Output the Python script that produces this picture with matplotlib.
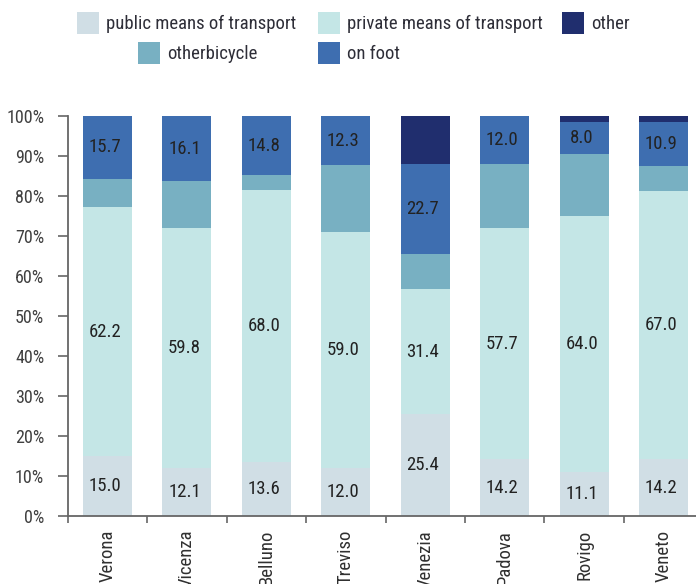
import numpy as np
import matplotlib
matplotlib.use("Agg")
import matplotlib.pyplot as plt
from matplotlib import font_manager as fm
from matplotlib.ticker import PercentFormatter
from matplotlib.patches import Patch

# pick a narrow font if one is installed, the chart uses a condensed face
narrow = ("condensed", "semi-condensed", "extra-condensed", "ultra-condensed")
pref = ["Liberation Sans Narrow", "Roboto Condensed", "Open Sans Condensed",
        "Noto Sans", "DejaVu Sans", "Roboto", "Open Sans"]
found = None
for name in pref:
    for f in fm.fontManager.ttflist:
        if f.name == name and (f.stretch in narrow or "Narrow" in name or "Condensed" in name):
            found = (name, f.stretch)
            break
    if found:
        break
if found:
    plt.rcParams['font.family'] = [found[0], 'DejaVu Sans']
    plt.rcParams['font.stretch'] = found[1] if found[1] in narrow else 'normal'
else:
    plt.rcParams['font.family'] = ['Liberation Sans', 'DejaVu Sans']

cities = ["Verona", "Vicenza", "Belluno", "Treviso", "Venezia", "Padova", "Rovigo", "Veneto"]

public = [15.0, 12.1, 13.6, 12.0, 25.4, 14.2, 11.1, 14.2]
private = [62.2, 59.8, 68.0, 59.0, 31.4, 57.7, 64.0, 67.0]
bicycle = [7.1, 11.9, 3.6, 16.7, 8.6, 16.1, 15.5, 6.4]
on_foot = [15.7, 16.1, 14.8, 12.3, 22.7, 12.0, 8.0, 10.9]
other = [0.0, 0.1, 0.0, 0.0, 11.9, 0.0, 1.4, 1.5]

series = [
    ("public means of transport", public, "#d0dee5"),
    ("private means of transport", private, "#c4e6e6"),
    ("otherbicycle", bicycle, "#78b0c2"),
    ("on foot", on_foot, "#3e6eb0"),
    ("other", other, "#202e6e"),
]
labelled = ["public means of transport", "private means of transport", "on foot"]

fig = plt.figure(figsize=(6.96, 5.84), dpi=100)
ax = fig.add_axes([0.0974, 0.1164, 0.913, 0.685])

x = np.arange(len(cities))
bottom = np.zeros(len(cities))
colors = {}
for name, vals, col in series:
    vals = np.array(vals)
    ax.bar(x, vals, 0.617, bottom=bottom, color=col, edgecolor="none")
    colors[name] = col
    if name in labelled:
        for xi, b, v in zip(x, bottom, vals):
            ax.text(xi - 0.03, b + v / 2, f"{v:.1f}", ha="center", va="center",
                    fontsize=13.5, color="#222222")
    bottom += vals

ax.set_xlim(-0.5, 7.5)
ax.set_ylim(0, 100)
ax.set_yticks(np.arange(0, 101, 10))
ax.yaxis.set_major_formatter(PercentFormatter(decimals=0))
ax.tick_params(axis="y", direction="out", length=7, width=1.2, color="#666666",
               labelsize=13, labelcolor="#404040", pad=10)

ax.set_xticks(x)
ax.set_xticklabels(cities, rotation=90, va="top", ha="center")
ax.tick_params(axis="x", which="major", length=0, labelsize=13.5,
               labelcolor="#303030", pad=10)
ax.set_xticks(np.arange(-0.5, 7.6, 1), minor=True)
ax.tick_params(axis="x", which="minor", direction="out", length=5, width=1.2,
               color="#666666")

for s in ["top", "right"]:
    ax.spines[s].set_visible(False)
for s in ["left", "bottom"]:
    ax.spines[s].set_color("#666666")
    ax.spines[s].set_linewidth(1.3)

# legend entries placed one by one (two rows, not a regular grid)
leg_pos = {
    "public means of transport": (77, 23),
    "private means of transport": (318, 23),
    "other": (562, 23),
    "otherbicycle": (138, 53),
    "on foot": (318, 53),
}
for name, (px, py) in leg_pos.items():
    h = Patch(facecolor=colors[name], edgecolor="none", label=name)
    fig.legend(handles=[h], loc="center left", bbox_to_anchor=(px / 696, 1 - py / 584),
               frameon=False, fontsize=13.5, handlelength=1.17, handleheight=1.5,
               handletextpad=0.38, borderpad=0, borderaxespad=0, labelcolor="#2e2e38")

fig.savefig("out.png", dpi=100)
